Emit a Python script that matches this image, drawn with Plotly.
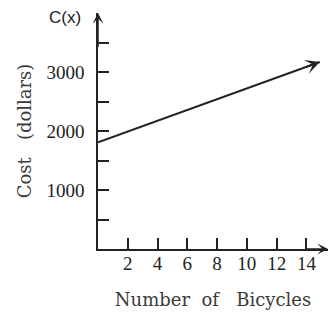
import plotly.graph_objects as go

# Data
bicycles = [0, 14.9]
cost = [1810, 3170]
x_ticks = [2, 4, 6, 8, 10, 12, 14]
x_tick_labels = ["2", "4", "6", "8", "10", "12", "14"]
y_ticks = [1000, 2000, 3000]
y_tick_labels = ["1000", "2000", "3000"]

ink = "#222222"
serif = "Liberation Serif"
title_font = dict(family="DejaVu Serif", size=18, color="#3a3a3a")

fig = go.Figure()
fig.add_trace(go.Scatter(
    x=bicycles, y=cost, mode="lines",
    line=dict(color=ink, width=2), showlegend=False, cliponaxis=False,
    hoverinfo="skip",
))

x_max = 15.45
y_max = 4000

fig.update_layout(
    width=330, height=314,
    margin=dict(l=98, r=2, t=13, b=65),
    paper_bgcolor="white", plot_bgcolor="white",
    font=dict(family=serif, size=19, color=ink),
    xaxis=dict(
        range=[0, x_max], showgrid=False, zeroline=False, automargin=False,
        showline=True, linecolor=ink, linewidth=1.5,
        tickmode="array", tickvals=x_ticks, ticktext=x_tick_labels,
        ticks="inside", ticklen=11, tickwidth=1.5, tickcolor=ink,
        ticklabelstandoff=-4,
        title=dict(text="Number\u00a0\u00a0of\u00a0\u00a0\u00a0Bicycles",
                   standoff=21, font=title_font),
    ),
    yaxis=dict(
        range=[0, y_max], showgrid=False, zeroline=False, automargin=False,
        showline=True, linecolor=ink, linewidth=1.5,
        tickmode="array", tickvals=y_ticks, ticktext=y_tick_labels,
        ticks="inside", ticklen=11, tickwidth=1.5, tickcolor=ink,
        ticklabelstandoff=8,
        minor=dict(dtick=500, tick0=0, ticks="inside", ticklen=11,
                   tickwidth=1.5, tickcolor=ink, showgrid=False),
        title=dict(text="Cost\u00a0\u00a0\u00a0(dollars)", standoff=10,
                   font=title_font),
    ),
)

# Arrowheads on axes and line
arrow_style = dict(showarrow=True, text="", arrowhead=3, arrowsize=1.2,
                   arrowwidth=1.5, arrowcolor=ink, xref="x", yref="y",
                   axref="x", ayref="y", standoff=0, startstandoff=0)
fig.add_annotation(x=0, y=y_max, ax=0, ay=y_max * 0.85, **arrow_style)
fig.add_annotation(x=x_max, y=0, ax=x_max * 0.9, ay=0, **arrow_style)
fig.add_annotation(x=bicycles[-1], y=cost[-1],
                   ax=bicycles[-1] - 1.0,
                   ay=cost[-1] - (cost[-1] - cost[0]) / (bicycles[-1] - bicycles[0]),
                   **{**arrow_style, "arrowwidth": 2})

fig.add_annotation(x=0, y=y_max, xref="x", yref="y", text="C(x)", showarrow=False,
                   xanchor="right", yanchor="middle", xshift=-15, yshift=-4,
                   font=dict(family="Liberation Sans", size=17, color=ink))

fig.write_html("out.html", config={"displayModeBar": False},
               post_script="document.body.style.margin='0';document.body.style.overflow='hidden';")
